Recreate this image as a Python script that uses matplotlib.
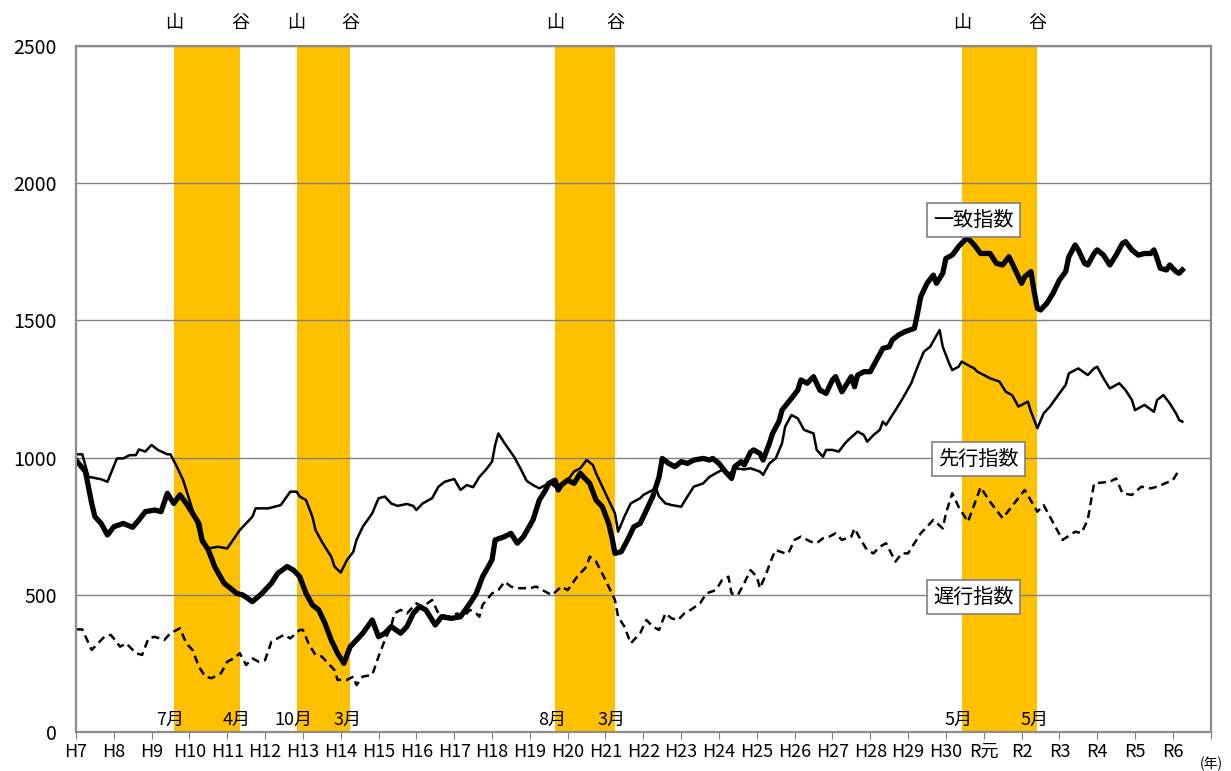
import matplotlib
matplotlib.use("Agg")
import matplotlib.pyplot as plt

plt.rcParams['font.family'] = ['Noto Sans CJK JP', 'DejaVu Sans']

# months counted from Jan 1995 (H7)
year_labels = ["H7", "H8", "H9", "H10", "H11", "H12", "H13", "H14", "H15", "H16",
               "H17", "H18", "H19", "H20", "H21", "H22", "H23", "H24", "H25", "H26",
               "H27", "H28", "H29", "H30", "R元", "R2", "R3", "R4", "R5", "R6"]

# recession bands: peak month / trough month (month index) and their labels
peak_month = [30, 69, 151, 280]
trough_month = [51, 86, 170, 304]
peak_label = ["7月", "10月", "8月", "5月"]
trough_label = ["4月", "3月", "3月", "5月"]

# 一致指数 (coincident)
coin_month = [0, 3, 5, 6, 8, 10, 12, 15, 18, 20, 22, 25, 27, 29, 31, 33, 35, 37, 39, 40,
              42, 44, 47, 49, 51, 53, 56, 59, 62, 64, 67, 69, 71, 73, 75, 77, 79, 81, 83, 85,
              87, 89, 91, 94, 96, 98, 100, 103, 105, 107, 109, 111, 114, 116, 119, 122, 125, 127, 129, 132,
              133, 136, 138, 140, 142, 145, 147, 149, 150, 152, 153, 154, 156, 158, 160, 161, 163, 165, 167, 169,
              170, 171, 173, 175, 177, 179, 181, 183, 185, 186, 188, 190, 192, 194, 196, 199, 201, 202, 204, 206,
              208, 209, 211, 212, 214, 215, 217, 218, 220, 221, 223, 224, 227, 229, 230, 232, 234, 236, 238, 240,
              241, 243, 246, 247, 248, 250, 252, 254, 256, 258, 259, 261, 263, 266, 267, 268, 270, 272, 273, 275,
              276, 278, 280, 282, 283, 285, 287, 290, 292, 294, 296, 298, 300, 301, 303, 304, 305, 306, 308, 310,
              312, 314, 315, 317, 318, 320, 321, 323, 324, 326, 328, 330, 332, 333, 335, 337, 339, 341, 342, 343,
              344, 346, 347, 349, 350, 351]
coin_value = [991, 949, 833, 785, 760, 718, 748, 760, 746, 773, 803, 809, 803, 870, 833, 864, 833, 797, 760, 700,
              663, 603, 542, 524, 505, 499, 475, 505, 542, 578, 603, 590, 566, 505, 463, 445, 396, 335, 287, 250,
              311, 335, 360, 408, 347, 360, 384, 360, 384, 432, 457, 445, 390, 420, 414, 420, 469, 505, 566, 627,
              700, 712, 724, 688, 712, 773, 845, 882, 906, 918, 882, 900, 918, 906, 943, 930, 906, 845, 821, 760,
              712, 651, 657, 700, 748, 760, 809, 858, 930, 997, 979, 967, 985, 979, 991, 997, 991, 997, 979, 949,
              924, 967, 985, 973, 1020, 1028, 1015, 991, 1052, 1088, 1131, 1173, 1216, 1246, 1283, 1271, 1295, 1246, 1234, 1283,
              1295, 1240, 1295, 1258, 1301, 1313, 1313, 1356, 1398, 1404, 1429, 1447, 1459, 1471, 1526, 1586, 1635, 1665, 1635, 1672,
              1726, 1738, 1769, 1793, 1799, 1775, 1744, 1744, 1708, 1702, 1732, 1684, 1635, 1659, 1678, 1605, 1544, 1538, 1562, 1599,
              1647, 1678, 1732, 1775, 1757, 1708, 1702, 1744, 1757, 1738, 1702, 1738, 1781, 1787, 1757, 1738, 1744, 1744, 1757, 1726,
              1690, 1684, 1702, 1678, 1672, 1684]

# 先行指数 (leading)
lead_month = [0, 2, 4, 8, 10, 13, 15, 17, 19, 20, 22, 24, 26, 29, 30, 32, 34, 36, 38, 40,
              42, 45, 48, 52, 56, 57, 61, 65, 68, 70, 71, 73, 75, 76, 78, 79, 81, 82, 84, 86,
              88, 89, 91, 94, 96, 98, 100, 102, 105, 107, 108, 110, 113, 115, 117, 120, 122, 124, 126, 128,
              130, 132, 133, 134, 136, 139, 141, 143, 145, 147, 149, 150, 152, 154, 156, 158, 160, 162, 164, 165,
              167, 169, 171, 172, 174, 176, 179, 180, 183, 184, 185, 187, 189, 192, 194, 196, 199, 201, 203, 205,
              207, 209, 212, 214, 217, 218, 220, 222, 224, 225, 227, 229, 231, 234, 235, 237, 238, 240, 242, 244,
              245, 248, 250, 251, 253, 255, 256, 257, 260, 262, 265, 267, 269, 271, 274, 275, 277, 278, 280, 281,
              283, 285, 286, 288, 290, 293, 295, 297, 299, 302, 303, 305, 307, 309, 312, 314, 315, 318, 321, 323,
              324, 326, 328, 331, 333, 335, 336, 339, 342, 343, 345, 347, 349, 350, 351]
lead_value = [1012, 1012, 930, 921, 912, 997, 997, 1009, 1009, 1030, 1022, 1046, 1028, 1012, 1012, 967, 918, 845, 773, 688,
              669, 675, 669, 736, 785, 815, 815, 827, 876, 876, 858, 845, 785, 736, 694, 675, 639, 603, 581, 627,
              657, 700, 748, 797, 852, 858, 833, 824, 831, 824, 809, 833, 852, 894, 912, 922, 882, 900, 892, 930,
              955, 985, 1046, 1088, 1052, 1003, 961, 915, 900, 888, 900, 910, 894, 894, 918, 949, 961, 991, 973, 943,
              894, 845, 797, 730, 785, 833, 852, 864, 882, 888, 858, 833, 827, 821, 858, 894, 906, 930, 943, 955,
              937, 961, 957, 961, 949, 937, 979, 997, 1052, 1113, 1155, 1143, 1101, 1088, 1028, 1003, 1028, 1028, 1022, 1052,
              1064, 1095, 1082, 1058, 1082, 1101, 1131, 1119, 1173, 1210, 1271, 1331, 1386, 1404, 1465, 1404, 1344, 1319, 1331, 1350,
              1337, 1325, 1313, 1301, 1289, 1277, 1240, 1228, 1186, 1204, 1167, 1107, 1161, 1186, 1234, 1265, 1307, 1325, 1301, 1325,
              1331, 1289, 1252, 1271, 1246, 1210, 1173, 1192, 1167, 1210, 1228, 1198, 1161, 1137, 1131]

# 遅行指数 (lagging)
lag_month = [0, 2, 5, 9, 11, 12, 14, 16, 19, 21, 23, 25, 28, 30, 33, 35, 37, 39, 41, 43,
             46, 48, 50, 52, 54, 56, 58, 60, 62, 66, 68, 71, 72, 74, 76, 78, 80, 82, 83, 86,
             88, 89, 91, 94, 96, 98, 100, 101, 103, 105, 108, 110, 113, 115, 118, 121, 123, 125, 127, 128,
             129, 132, 134, 136, 138, 140, 144, 146, 148, 151, 154, 156, 159, 162, 163, 165, 168, 171, 172, 174,
             176, 179, 181, 183, 185, 187, 189, 191, 193, 195, 198, 200, 203, 205, 207, 208, 210, 212, 214, 216,
             217, 219, 221, 222, 225, 226, 228, 230, 233, 235, 237, 239, 241, 243, 246, 247, 249, 251, 253, 255,
             257, 260, 262, 264, 266, 268, 270, 272, 275, 276, 278, 280, 283, 287, 290, 294, 301, 305, 307, 313,
             317, 319, 321, 323, 328, 330, 332, 335, 338, 341, 343, 348, 350]
lag_value = [374, 374, 299, 347, 354, 341, 311, 323, 287, 281, 341, 347, 335, 360, 378, 323, 299, 238, 202, 196,
             214, 256, 268, 287, 244, 268, 256, 262, 329, 354, 341, 372, 372, 317, 281, 275, 250, 226, 190, 190,
             202, 171, 202, 208, 275, 335, 384, 432, 445, 432, 469, 457, 481, 432, 420, 432, 420, 445, 432, 420,
             463, 505, 517, 548, 530, 524, 524, 530, 517, 499, 530, 517, 566, 603, 639, 621, 554, 481, 420, 384,
             323, 360, 408, 384, 372, 432, 414, 408, 432, 445, 469, 505, 517, 554, 566, 505, 499, 542, 590, 566,
             524, 578, 639, 663, 651, 651, 700, 712, 694, 688, 706, 712, 724, 700, 712, 742, 700, 663, 651, 675,
             688, 621, 651, 651, 688, 724, 748, 773, 742, 797, 870, 821, 766, 892, 839, 779, 882, 803, 827, 700,
             730, 725, 773, 906, 912, 924, 870, 864, 894, 888, 894, 918, 955]

fig = plt.figure(figsize=(12.31, 7.71), dpi=100)
ax = fig.add_axes([0.0617, 0.0506, 0.9218, 0.8897])

for p, t in zip(peak_month, trough_month):
    ax.axvspan(p + 1, t + 1, color="#FFC000", lw=0, zorder=1)

ax.set_yticks([0, 500, 1000, 1500, 2000, 2500])
ax.yaxis.grid(True, color="#808080", lw=1.0, zorder=2)
ax.set_axisbelow(False)

ax.plot(lead_month, lead_value, color="black", lw=1.8, zorder=4)
ax.plot(lag_month, lag_value, color="black", lw=1.8, ls=(0, (3.2, 2.0)), zorder=4)
ax.plot(coin_month, coin_value, color="black", lw=3.8, zorder=5, solid_joinstyle="round")

ax.set_xlim(0, 360)
ax.set_ylim(0, 2500)
ax.set_xticks(range(0, 361, 12))
ax.set_xticklabels(year_labels + [""], fontsize=13)
ax.tick_params(axis="x", length=5, color="#808080", pad=3)
ax.tick_params(axis="y", length=0, pad=14, labelsize=14)

for s in ax.spines.values():
    s.set_color("#8c8c8c")
    s.set_linewidth(1.6)
    s.set_zorder(6)

# 山 / 谷 above the plot, month labels at the bottom
for p, t, pl, tl in zip(peak_month, trough_month, peak_label, trough_label):
    ax.text(p + 1, 1.02, "山", transform=ax.get_xaxis_transform(), ha="center", va="bottom", fontsize=13)
    ax.text(t + 1, 1.02, "谷", transform=ax.get_xaxis_transform(), ha="center", va="bottom", fontsize=13)
    ax.text(p, 0.005, pl, transform=ax.get_xaxis_transform(), ha="center", va="bottom", fontsize=13, zorder=7)
    ax.text(t, 0.005, tl, transform=ax.get_xaxis_transform(), ha="center", va="bottom", fontsize=13, zorder=7)

box = dict(boxstyle="square,pad=0.3", fc="white", ec="#808080", lw=1.2)
ax.text(284.8, 1866, "一致指数", ha="center", va="center", fontsize=14.5, bbox=box, zorder=8)
ax.text(286.4, 995, "先行指数", ha="center", va="center", fontsize=14.5, bbox=box, zorder=8)
ax.text(284.8, 492, "遅行指数", ha="center", va="center", fontsize=14.5, bbox=box, zorder=8)

fig.text(0.975, 0.0, "(年)", fontsize=10, ha="left", va="bottom")

fig.savefig("out.png", dpi=100)
